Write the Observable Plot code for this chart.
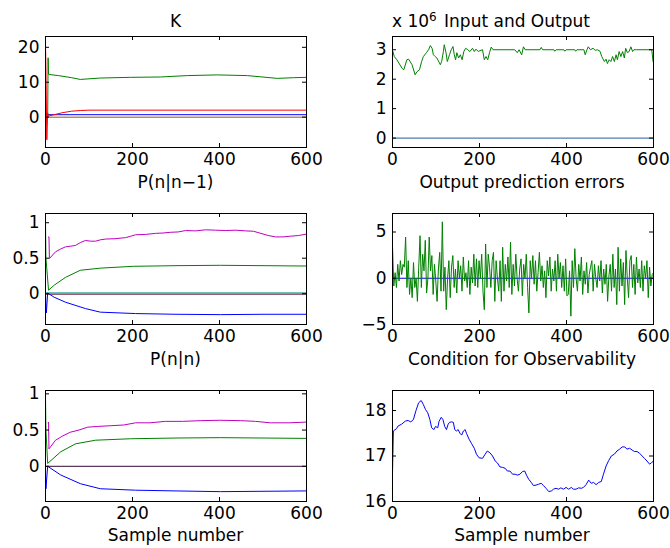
<!DOCTYPE html>
<html><head><meta charset="utf-8">
<script src="https://cdn.jsdelivr.net/npm/d3@7"></script>
<script src="https://cdn.jsdelivr.net/npm/@observablehq/plot@0.6"></script>
<style>
body{margin:0;background:#fff;}
#fig{position:relative;width:670px;height:548px;overflow:hidden;background:#fff;font-family:"DejaVu Sans",sans-serif;}
.lbl{position:absolute;font-size:17px;line-height:20px;white-space:nowrap;transform:translate(-50%,-50%);color:#000;z-index:2;}
.lbl-l{position:absolute;font-size:17px;line-height:20px;white-space:nowrap;transform:translate(0,-50%);color:#000;z-index:2;}
sup{font-size:12px;line-height:0;vertical-align:6px;}
</style></head>
<body><div id="fig"></div>
<script>
// ---------- shared ticks ----------
const sampleTicks = [0, 200, 400, 600];

// ---------- Panel 1: K ----------
const kTicks = [0, 10, 20];
const kGreenN = [5, 6, 7, 10, 30, 60, 80, 126, 195, 264, 326, 395, 464, 533, 570, 600];
const kGreenV = [0, 17.0, 12.3, 12.2, 11.9, 11.3, 10.8, 11.2, 11.4, 11.5, 11.9, 12.1, 11.9, 11.1, 11.3, 11.4];
const kRedN = [0, 1, 3, 5, 6, 10, 20, 40, 60, 80, 100, 600];
const kRedV = [21, 14, -6.5, 1.2, 0.3, 0.4, 0.7, 1.3, 1.7, 1.9, 2.0, 2.0];
const kBlueN = [0, 4, 600];
const kBlueV = [0, 0.7, 0.7];
const kZeroN = [0, 600];
const kZeroV = [0, 0];

// ---------- Panel 2: Input and Output (x 10^6) ----------
const ioTicks = [0, 1, 2, 3];
const ioGreenN = [1, 4, 10, 22, 26, 33, 37, 45, 52, 56, 62, 67, 71, 78, 83, 87, 91, 94, 98, 102, 110, 113, 117, 119, 123, 126, 131, 135, 139, 142, 145, 148, 152, 156, 160, 164, 168, 173, 178, 184, 188, 192, 197, 201, 207, 211, 215, 219, 223, 227, 231, 281, 287, 291, 297, 301, 305, 339, 342, 345, 371, 373, 376, 394, 396, 399, 419, 421, 424, 440, 443, 447, 450, 455, 461, 466, 471, 477, 481, 487, 491, 494, 498, 502, 506, 510, 514, 517, 521, 525, 529, 533, 536, 540, 544, 548, 552, 555, 561, 596, 599];
const ioGreenV = [2.94, 2.77, 2.66, 2.37, 2.32, 2.66, 2.68, 2.49, 2.15, 2.25, 2.32, 2.6, 2.77, 2.9, 3.0, 3.14, 3.05, 2.83, 2.77, 2.72, 2.49, 2.6, 2.94, 3.17, 2.9, 2.6, 2.83, 3.0, 3.11, 2.83, 2.66, 2.9, 2.72, 2.83, 2.66, 2.94, 3.05, 3.0, 2.94, 3.05, 2.94, 3.02, 2.94, 2.97, 3.0, 2.66, 2.77, 2.66, 2.9, 3.09, 3.0, 3.0, 2.9, 3.0, 2.83, 3.1, 3.0, 3.0, 3.08, 3.0, 3.0, 2.95, 3.0, 3.0, 2.95, 3.0, 3.0, 2.95, 3.0, 3.0, 2.83, 3.0, 3.1, 3.0, 3.05, 2.98, 3.0, 2.95, 2.77, 2.6, 2.68, 2.53, 2.66, 2.6, 2.77, 2.6, 2.83, 2.66, 2.94, 2.77, 2.94, 2.72, 3.05, 2.9, 2.94, 3.1, 2.94, 3.0, 3.0, 3.0, 2.6];
const ioBlueN = [0, 600];
const ioBlueV = [0, 0];

// ---------- Panel 3: P(n|n-1) ----------
const p1Ticks = [0, 0.5, 1];
const p1MagN = [7, 8, 9, 23, 35, 46, 58, 69, 80, 92, 104, 115, 127, 138, 160, 184, 196, 207, 230, 253, 270, 287, 305, 322, 345, 368, 391, 414, 437, 460, 478, 495, 512, 529, 546, 563, 582, 600];
const p1MagV = [0.8, 0.8, 0.495, 0.59, 0.63, 0.66, 0.67, 0.68, 0.72, 0.75, 0.74, 0.74, 0.76, 0.77, 0.775, 0.79, 0.81, 0.83, 0.835, 0.85, 0.855, 0.865, 0.87, 0.89, 0.885, 0.9, 0.895, 0.89, 0.895, 0.885, 0.88, 0.85, 0.82, 0.8, 0.8, 0.81, 0.82, 0.84];
const p1GreenN = [0, 1, 7, 20, 46, 80, 126, 202, 300, 402, 500, 600];
const p1GreenV = [1.0, 0.5, 0.05, 0.12, 0.23, 0.33, 0.36, 0.386, 0.395, 0.4, 0.395, 0.39];
const p1BlueN = [0, 2, 5, 20, 46, 92, 126, 207, 300, 402, 500, 600];
const p1BlueV = [0, -0.27, 0.01, -0.05, -0.12, -0.21, -0.26, -0.28, -0.29, -0.295, -0.29, -0.29];
const p1CyanN = [0, 600];
const p1CyanV = [0.012, 0.012];
const p1DarkN = [0, 600];
const p1DarkV = [-0.005, -0.005];

// ---------- Panel 4: Output prediction errors ----------
const errTicks = [-5, 0, 5];
const errGreen = [3.5, -0.84, 0.6, -1.0, 1.5, -0.3, 1.9, 0.4, 1.5, 1.2, 4.45, -1.0, 1.9, -1.75, 0, -2.1, 1.7, -1.0, 0, -2.5, 1.2, 4.6, -1.0, 2.6, 0.8, 4.1, -1.6, 0, 4.45, 0.8, 2.45, -1.75, 1.5, -0.3, -2.5, 1.0, 2.8, -1.4, 6.1, -1.4, 1.2, -3.4, 0, 1.9, -2.1, 1.2, 2.45, -1.0, 1.0, -1.6, 1.9, 0, 1.35, -1.4, 2.3, -0.3, 0.6, -1.0, 1.9, -1.75, 1.2, -0.5, 2.6, -0.84, 2.1, -1.0,
  1.9, 0, 2.6, -1.4, -3.4, 3.7, -1.0, 2.6, 1.2, -1.0, 1.9, 2.8, -2.5, 1.9, 0, -1.4, 1.9, -2.5, 3.35, -1.4, 1.5, -0.3, 2.3, -1.0, 3.9, -1.75, 1.5, -0.84, 2.6, 0, -1.4, 1.0, 2.1, -1.9, 1.5, 0, 2.6, -1.0, -3.75, 1.9, 0, 2.45, -0.65, 1.9, -1.4, 0.6, 2.8, -0.3, 1.35, -1.0, 0.8, -2.1, 1.9, 0.25, 2.3, -1.4, 1.0, -0.3, 1.9, -1.4, 2.6, 0, 1.7, -1.0, 1.35, -1.4, 2.1, -1.9,
  -1.75, 0.8, -4.1, 1.9, -1.0, 3.2, 0, -1.4, 1.5, -0.3, 2.3, -1.75, 0.8, -0.65, 1.7, -1.6, 0.4, 1.2, 1.9, -1.4, 1.5, 0, -1.0, 1.35, -0.3, 1.9, -1.6, 1.0, -0.65, 1.5, -2.5, 0.25, 1.5, -1.4, 2.6, -1.0, 1.0, -2.85, 3.35, -1.4, 2.1, -0.84, 1.7, -2.85, 3.0, 0, -2.1, 1.9, 2.45, -1.0, 1.5, -1.75, 2.3, -0.5, 1.0, -1.0, 1.9, -1.4, 1.35, 0, 1.9, -2.1, 1.2, -0.84, 0.4, 0.6];
const errGreenN = errGreen.map((_, i) => i * 600 / (errGreen.length - 1));
const errBlueN = [0, 600];
const errBlueV = [0, 0];

// ---------- Panel 5: P(n|n) ----------
const p2Ticks = [0, 0.5, 1];
const p2MagN = [6, 7, 8, 23, 40, 57, 77, 97, 120, 150, 180, 207, 240, 276, 315, 357, 400, 448, 483, 517, 560, 600];
const p2MagV = [0.6, 0.61, 0.24, 0.36, 0.42, 0.47, 0.5, 0.54, 0.55, 0.56, 0.57, 0.6, 0.6, 0.62, 0.62, 0.63, 0.635, 0.63, 0.62, 0.6, 0.6, 0.61];
const p2GreenN = [0, 1, 5, 35, 69, 115, 195, 300, 402, 500, 600];
const p2GreenV = [0.95, 0.5, 0.04, 0.2, 0.31, 0.36, 0.38, 0.39, 0.395, 0.39, 0.385];
const p2BlueN = [0, 1, 5, 35, 80, 126, 207, 300, 402, 500, 600];
const p2BlueV = [0, -0.31, 0, -0.12, -0.24, -0.31, -0.33, -0.34, -0.35, -0.345, -0.34];
const p2DarkN = [0, 600];
const p2DarkV = [0, 0];

// ---------- Panel 6: Condition for Observability ----------
const obsTicks = [16, 17, 18];
const obsN = [0, 2, 9, 13, 21, 30, 36, 42, 48, 54, 60, 66, 71, 76, 81, 86, 90, 95, 99, 104, 107, 112, 116, 120, 124, 128, 131, 136, 140, 143, 147, 151, 155, 159, 163, 167, 170, 176, 182, 188, 193, 199, 207, 213, 218, 224, 230, 236, 241, 247, 253, 259, 264, 270, 276, 282, 287, 293, 299, 304, 308, 313, 319, 324, 330, 336, 342, 347, 353, 359, 365, 370, 376, 382, 387, 393, 399, 405, 411, 416, 422, 428, 434, 439, 445, 451, 457, 462, 468, 474, 480, 485, 491, 497, 503, 510, 516, 522, 528, 534, 539, 545, 551, 556, 562, 568, 574, 579, 585, 591, 595, 600];
const obsV = [16.63, 17.55, 17.6, 17.66, 17.7, 17.77, 17.78, 17.75, 17.8, 18.0, 18.17, 18.22, 18.13, 18.02, 17.95, 17.8, 17.62, 17.58, 17.65, 17.62, 17.76, 17.85, 17.8, 17.65, 17.58, 17.7, 17.74, 17.75, 17.74, 17.58, 17.55, 17.58, 17.5, 17.46, 17.55, 17.58, 17.5, 17.37, 17.27, 17.17, 17.04, 16.96, 16.95, 17.04, 17.11, 17.07, 17.0, 16.89, 16.85, 16.76, 16.75, 16.73, 16.67, 16.67, 16.6, 16.6, 16.58, 16.6, 16.66, 16.67, 16.58, 16.49, 16.42, 16.35, 16.36, 16.38, 16.4, 16.35, 16.29, 16.22, 16.23, 16.27, 16.29, 16.27, 16.3, 16.27, 16.31, 16.27, 16.31, 16.27, 16.27, 16.3, 16.29, 16.31, 16.37, 16.47, 16.4, 16.42, 16.37, 16.42, 16.44, 16.6, 16.78, 16.9, 17.0, 17.04, 17.11, 17.15, 17.2, 17.2, 17.15, 17.17, 17.13, 17.1, 17.1, 17.06, 17.0, 16.95, 16.89, 16.82, 16.85, 16.89];

// ---------- colours ----------
const C = {blue: "#0000ff", green: "#008000", red: "#ff0000", magenta: "#bf00bf", cyan: "#1aa58f", tan: "#b0915e", steel: "#4f7fae", dark: "#7a2848", purple: "#5a3a5e"};

const fig = document.getElementById("fig");
const FW = 261, FH = 111;

function panel({left, top, ml, mr, yDomain, yTicks, series}) {
  const mt = 10, mb = 34;
  const marks = [];
  for (const s of series) {
    const data = s.x.map((x, i) => ({x, y: s.y[i]}));
    marks.push(Plot.line(data, {x: "x", y: "y", stroke: s.color, strokeWidth: s.w ?? 1, clip: true}));
  }
  marks.push(Plot.tickX(sampleTicks, {x: d => d, insetTop: FH - 4, stroke: "#000"}));
  marks.push(Plot.tickX(sampleTicks, {x: d => d, insetBottom: FH - 4, stroke: "#000"}));
  marks.push(Plot.tickY(yTicks, {y: d => d, insetRight: FW - 4, stroke: "#000"}));
  marks.push(Plot.tickY(yTicks, {y: d => d, insetLeft: FW - 4, stroke: "#000"}));
  marks.push(Plot.frame({stroke: "#000", strokeWidth: 1}));
  marks.push(Plot.axisX(sampleTicks, {tickSize: 0, tickPadding: 5, tickFormat: d3.format(""), fill: "#000", label: null}));
  marks.push(Plot.axisY(yTicks, {tickSize: 0, tickPadding: 6, tickFormat: d3.format(""), fill: "#000", label: null}));
  const svg = Plot.plot({
    width: ml + FW + mr, height: mt + FH + mb,
    marginLeft: ml, marginRight: mr, marginTop: mt, marginBottom: mb,
    x: {domain: [0, 600], label: null},
    y: {domain: yDomain, label: null},
    style: {fontFamily: "DejaVu Sans, sans-serif", fontSize: "17px", background: "transparent", overflow: "visible", color: "#000"},
    marks
  });
  svg.style.position = "absolute";
  svg.style.left = (left - ml) + "px";
  svg.style.top = (top - mt) + "px";
  fig.appendChild(svg);
}

function label(html, x, y, cls = "lbl") {
  const d = document.createElement("div");
  d.className = cls;
  d.innerHTML = html;
  d.style.left = x + "px";
  d.style.top = y + "px";
  fig.appendChild(d);
}

const LX = 45, RX = 392;
const R1 = 36, R2 = 213, R3 = 390;

panel({left: LX, top: R1, ml: 45, mr: 20, yDomain: [-8.7, 23.1], yTicks: kTicks, series: [
  {x: kZeroN, y: kZeroV, color: C.tan, w: 1.5},
  {x: kBlueN, y: kBlueV, color: C.blue},
  {x: kGreenN, y: kGreenV, color: C.green},
  {x: kRedN, y: kRedV, color: C.red}
]});
panel({left: RX, top: R1, ml: 57, mr: 17, yDomain: [-0.32, 3.45], yTicks: ioTicks, series: [
  {x: ioBlueN, y: ioBlueV, color: C.steel, w: 1.3},
  {x: ioGreenN, y: ioGreenV, color: C.green}
]});
panel({left: LX, top: R2, ml: 45, mr: 20, yDomain: [-0.434, 1.13], yTicks: p1Ticks, series: [
  {x: p1DarkN, y: p1DarkV, color: C.dark, w: 1.3},
  {x: p1CyanN, y: p1CyanV, color: C.cyan},
  {x: p1BlueN, y: p1BlueV, color: C.blue},
  {x: p1GreenN, y: p1GreenV, color: C.green},
  {x: p1MagN, y: p1MagV, color: C.magenta}
]});
panel({left: RX, top: R2, ml: 57, mr: 17, yDomain: [-5, 7], yTicks: errTicks, series: [
  {x: errBlueN, y: errBlueV, color: C.blue},
  {x: errGreenN, y: errGreen, color: C.green}
]});
panel({left: LX, top: R3, ml: 45, mr: 20, yDomain: [-0.486, 1.046], yTicks: p2Ticks, series: [
  {x: p2DarkN, y: p2DarkV, color: C.purple, w: 1.3},
  {x: p2BlueN, y: p2BlueV, color: C.blue},
  {x: p2GreenN, y: p2GreenV, color: C.green},
  {x: p2MagN, y: p2MagV, color: C.magenta}
]});
panel({left: RX, top: R3, ml: 57, mr: 17, yDomain: [16, 18.44], yTicks: obsTicks, series: [
  {x: obsN, y: obsV, color: C.blue}
]});

label("K", 175.5, 21);
label("x 10<sup>6</sup>", 392, 21, "lbl-l");
label("Input and Output", 517, 21);
label("P(n|n\u22121)", 175.5, 182);
label("Output prediction errors", 522, 182);
label("P(n|n)", 175.5, 359);
label("Condition for Observability", 522, 359);
label("Sample number", 175.5, 535);
label("Sample number", 522, 535);
</script>
</body></html>
